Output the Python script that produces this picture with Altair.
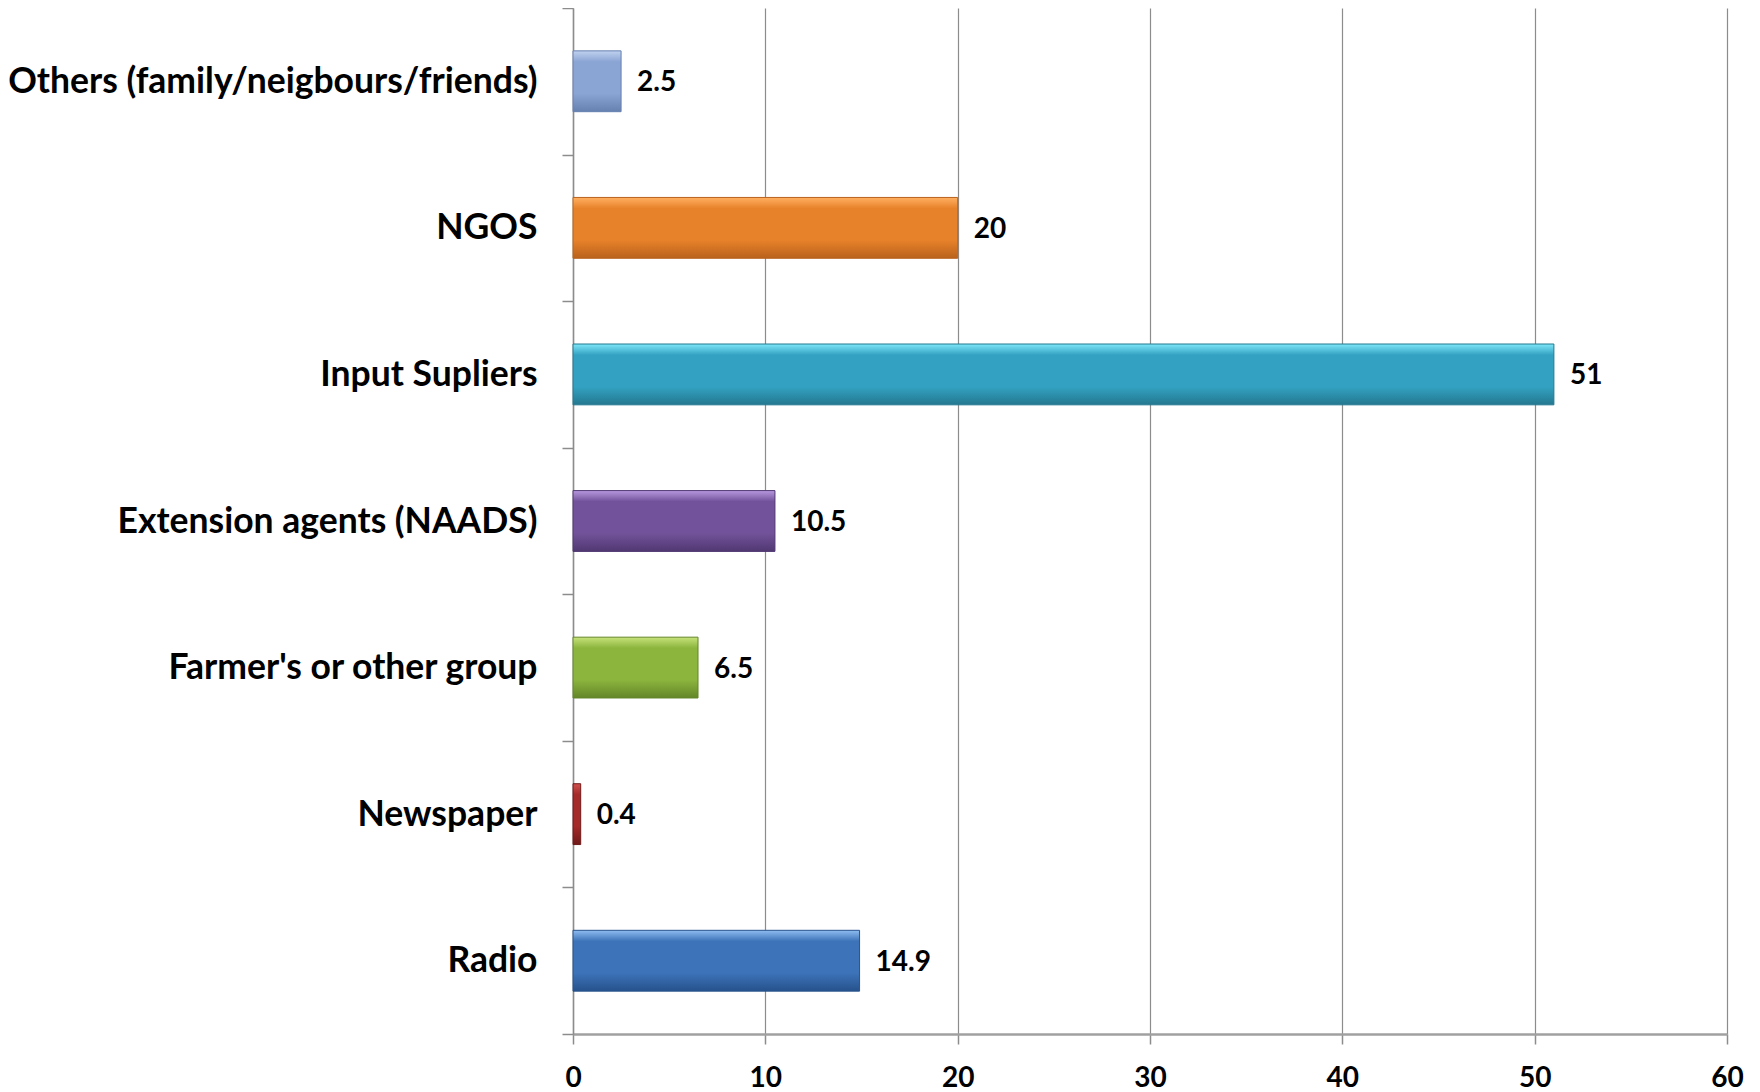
import altair as alt
import pandas as pd

categories = [
    "Others (family/neigbours/friends)",
    "NGOS ",
    "Input Supliers",
    "Extension agents (NAADS)",
    "Farmer's or other group",
    "Newspaper",
    "Radio ",
]
values = [2.5, 20, 51, 10.5, 6.5, 0.4, 14.9]
# light top, mid, dark bottom
light = ["#c0d2f0", "#ffb062", "#7ee6f8", "#b899de", "#c6e27a", "#d0504f", "#8fbdf0"]
mid = ["#8aa4d4", "#e8822a", "#33a2c2", "#72529a", "#8cb53e", "#a52a2a", "#3d73b9"]
dark = ["#6680b0", "#b9621c", "#24788f", "#513872", "#638628", "#6f1a1a", "#26528c"]
ticks = [0, 10, 20, 30, 40, 50, 60]

df = pd.DataFrame({"cat": categories, "val": values})

FONT = "Lato"


def grad(i):
    return {
        "gradient": "linear",
        "x1": 0, "y1": 0, "x2": 0, "y2": 1,
        "stops": [
            {"offset": 0, "color": light[i]},
            {"offset": 0.18, "color": mid[i]},
            {"offset": 0.7, "color": mid[i]},
            {"offset": 1, "color": dark[i]},
        ],
    }


fill_cond = {
    "condition": [
        {"test": f"datum.cat === {repr(c)}", "value": grad(i)}
        for i, c in enumerate(categories)
    ],
    "value": mid[0],
}
stroke_cond = {
    "condition": [
        {"test": f"datum.cat === {repr(c)}", "value": dark[i]}
        for i, c in enumerate(categories)
    ],
    "value": dark[0],
}

label_expr = (
    "(indexof(datum.label, 'NGOS') === 0 || indexof(datum.label, 'Radio') === 0)"
    " ? trim(datum.label) + '\u2002' : datum.label"
)

y_enc = alt.Y(
    "cat:N",
    sort=categories,
    scale=alt.Scale(paddingInner=0, paddingOuter=0),
    axis=alt.Axis(
        title=None,
        tickBand="extent",
        tickSize=11,
        tickColor="#8c8c8c",
        tickWidth=1.5,
        domainColor="#8c8c8c",
        domainWidth=1.5,
        labelPadding=25,
        labelFont=FONT,
        labelFontSize=35.5,
        labelFontWeight="bold",
        labelColor="#000000",
        labelLimit=0,
        labelExpr=label_expr,
        grid=False,
    ),
)
x_enc = alt.X(
    "val:Q",
    scale=alt.Scale(domain=[0, 60], nice=False),
    axis=alt.Axis(
        title=None,
        values=ticks,
        grid=True,
        gridColor="#8c8c8c",
        gridWidth=1.2,
        domainColor="#a0a0a0",
        domainWidth=2.5,
        tickColor="#8c8c8c",
        tickWidth=1.5,
        tickSize=10,
        labelFont=FONT,
        labelFontSize=28,
        labelFontWeight="bold",
        labelColor="#000000",
        labelPadding=20,
        labelFlush=False,
    ),
)

bars = alt.Chart(df).mark_bar(
    strokeWidth=1, height=alt.RelativeBandSize(0.415)
).encode(y=y_enc, x=x_enc, fill=fill_cond, stroke=stroke_cond)

labels = alt.Chart(df).mark_text(
    align="left", baseline="middle", dx=16, dy=2, font=FONT, fontSize=28,
    fontWeight="bold", color="#000000"
).encode(y=alt.Y("cat:N", sort=categories), x="val:Q", text=alt.Text("val:Q"))

chart = (
    alt.layer(bars, labels)
    .properties(
        width=1154,
        height=1026,
        autosize=alt.AutoSizeParams(type="none"),
        padding={"left": 565, "top": 0, "right": 24, "bottom": 58},
    )
    .configure_view(stroke=None)
)

chart.save("out.html", embed_options={"renderer": "svg", "actions": False})
